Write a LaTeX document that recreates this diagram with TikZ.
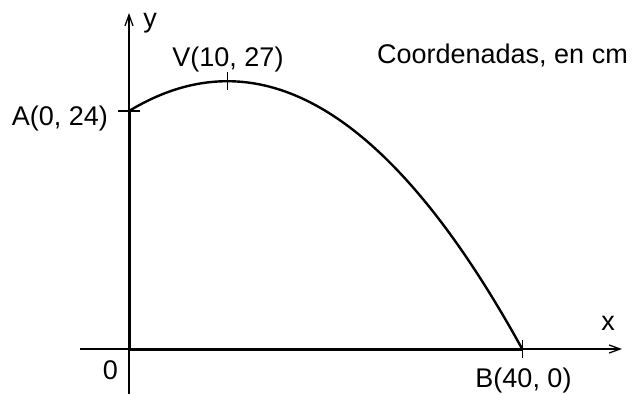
\documentclass[tikz,border=0pt]{standalone}
\usepackage{fontspec}
\setmainfont{Liberation Sans}
\usetikzlibrary{arrows.meta,calc}
\begin{document}
\begin{tikzpicture}[x=1pt,y=-1pt,
  thinline/.style={line width=1.3pt},
  thickline/.style={line width=3pt},
  curveline/.style={line width=2.4pt},
  axisarrow/.style={thinline,-{Straight Barb[length=11pt,width=8pt]}},
  lbl/.style={inner sep=0pt,font=\fontsize{27}{32}\selectfont}]
\useasboundingbox (0,0) rectangle (632,394);
% key points
\coordinate (O) at (129,349);
\coordinate (A) at (129,111);
\coordinate (V) at (227.3,81.2);
\coordinate (B) at (522.2,349);
\coordinate (ybot) at (129,394);
\coordinate (ytop) at (129,13);
\coordinate (xleft) at (80,349);
\coordinate (xright) at (622,349);
\coordinate (Q) at (325.6,-8.1);
% axes
\draw[axisarrow] (ybot) -- (ytop);
\draw[axisarrow] (xleft) -- (xright);
% thick segments
\draw[thickline] (O) -- (A);
\draw[thickline] (O) -- (B);
% parabola y = 27 - 0.03 (x-10)^2 as cubic Bezier
\draw[curveline] (A) .. controls ($(A)!2/3!(Q)$) and ($(B)!2/3!(Q)$) .. (B);
% ticks
\draw[thinline] ($(A)+(-11,0)$) -- ($(A)+(11,0)$);
\draw[thinline] ($(V)+(0,-9)$) -- ($(V)+(0,9)$);
\draw[thinline] ($(B)+(0,-9)$) -- ($(B)+(0,9)$);
% labels
\node[lbl,anchor=base east] (lA) at (108,125) {A(0, 24)};
\node[lbl,anchor=base] (lV) at (228,66) {V(10, 27)};
\node[lbl,anchor=base east] (l0) at (118,379) {0};
\node[lbl,anchor=base] (lB) at (523.5,387) {B(40, 0)};
\node[lbl,anchor=base] (lx) at (608,330) {x};
\node[lbl,anchor=base] (ly) at (150,27) {y};
\node[lbl,anchor=base east] (lC) at (628,63) {Coordenadas, en cm};
\end{tikzpicture}
\end{document}
